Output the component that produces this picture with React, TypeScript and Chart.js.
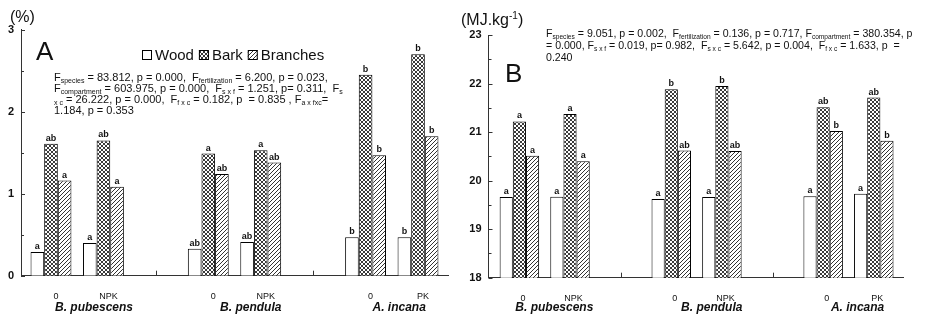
import React, { useEffect, useRef } from 'react';
import { Chart, registerables } from 'chart.js';

Chart.register(...registerables);

const FONT = '"Liberation Sans", Arial, Helvetica, sans-serif';
const INK = '#111';

// ---------- data ----------
const xLabels = ['0', 'NPK', '', '0', 'NPK', '', '0', 'PK'];
const barSlots = [0, 1, 3, 4, 6, 7];
const separatorSlots = [2, 5];
const species = ['B. pubescens', 'B. pendula', 'A. incana'];
const speciesSlotsA = [0.82, 3.81, 6.64];
const speciesSlotsB = [0.69, 3.8, 6.68];
const seriesNames = ['Wood', 'Bark', 'Branches'];

const woodA = [0.29, 0.4, 0.33, 0.41, 0.47, 0.47];
const barkA = [1.61, 1.65, 1.49, 1.53, 2.45, 2.7];
const branchesA = [1.16, 1.085, 1.24, 1.38, 1.47, 1.7];
const woodLettersA = ['a', 'a', 'ab', 'ab', 'b', 'b'];
const barkLettersA = ['ab', 'ab', 'a', 'a', 'b', 'b'];
const branchesLettersA = ['a', 'a', 'ab', 'ab', 'b', 'b'];

const woodB = [19.66, 19.67, 19.62, 19.66, 19.68, 19.73];
const barkB = [21.22, 21.375, 21.88, 21.95, 21.51, 21.71];
const branchesB = [20.51, 20.4, 20.62, 20.61, 21.02, 20.82];
const woodLettersB = ['a', 'a', 'a', 'a', 'a', 'a'];
const barkLettersB = ['a', 'a', 'b', 'b', 'ab', 'ab'];
const branchesLettersB = ['a', 'a', 'ab', 'ab', 'b', 'b'];

type Seg = [string, number]; // 0 normal, 1 subscript, 2 superscript

const statsA: Seg[][] = [
  [['F', 0], ['species', 1], [' = 83.812, p = 0.000,  F', 0], ['fertilization', 1], [' = 6.200, p = 0.023,', 0]],
  [['F', 0], ['compartment', 1], [' = 603.975, p = 0.000,  F', 0], ['s x f', 1], [' = 1.251, p= 0.311,  F', 0], ['s', 1]],
  [['x c', 1], [' = 26.222, p = 0.000,  F', 0], ['f x c', 1], [' = 0.182, p  = 0.835 , F', 0], ['a x fxc', 1], ['=', 0]],
  [['1.184, p = 0.353', 0]],
];
const statsB: Seg[][] = [
  [['F', 0], ['species', 1], [' = 9.051, p = 0.002,  F', 0], ['fertilization', 1], [' = 0.136, p = 0.717, F', 0], ['compartment', 1], [' = 380.354, p', 0]],
  [['= 0.000, F', 0], ['s x f', 1], [' = 0.019, p= 0.982,  F', 0], ['s x c', 1], [' = 5.642, p = 0.004,  F', 0], ['f x c', 1], [' = 1.633, p  =', 0]],
  [['0.240', 0]],
];
const unitA: Seg[] = [['(%)', 0]];
const unitB: Seg[] = [['(MJ.kg', 0], ['-1', 2], [')', 0]];

// ---------- patterns ----------
function makePattern(kind: 'bark' | 'branches'): CanvasPattern | string {
  const c = document.createElement('canvas');
  c.width = 4;
  c.height = 4;
  const x = c.getContext('2d');
  if (!x) return '#888';
  x.fillStyle = '#fff';
  x.fillRect(0, 0, 4, 4);
  x.fillStyle = kind === 'bark' ? '#3a3a3a' : '#333';
  for (let i = 0; i < 4; i++) {
    if (kind === 'bark') {
      x.fillRect(i, i, 1, 1);
      x.fillRect(3 - i, i, 1, 1);
    } else {
      x.fillRect(3 - i, i, 1, 1);
    }
  }
  const ctx = document.createElement('canvas').getContext('2d');
  return (ctx && ctx.createPattern(c, 'repeat')) || '#888';
}

function drawRich(ctx: CanvasRenderingContext2D, segs: Seg[], x: number, y: number, size: number, small: number) {
  let cx = x;
  ctx.textAlign = 'left';
  ctx.textBaseline = 'alphabetic';
  for (const [t, k] of segs) {
    ctx.font = `${k ? small : size}px ${FONT}`;
    const dy = k === 1 ? 2 : k === 2 ? -6 : 0;
    ctx.fillText(t, cx, y + dy);
    cx += ctx.measureText(t).width;
  }
}

interface PanelCfg {
  canvasWidth: number;
  left: number;
  area: { left: number; right: number; top: number; bottom: number };
  xMin: number;
  xMax: number;
  yMin: number;
  yMax: number;
  labelOffset: number;
  values: number[][];
  letters: string[][];
  speciesSlots: number[];
  unit: Seg[];
  unitPos: [number, number];
  panelLetter: string;
  panelLetterPos: [number, number];
  stats: Seg[][];
  statsX: number;
  statsBaselines: number[];
  statsFont: [number, number];
  legendPos?: [number, number];
}

function Panel({ cfg }: { cfg: PanelCfg }) {
  const ref = useRef<HTMLCanvasElement>(null);
  useEffect(() => {
    const canvas = ref.current;
    if (!canvas) return;
    const fills: (string | CanvasPattern)[] = ['#ffffff', makePattern('bark'), makePattern('branches')];
    const a = cfg.area;

    const overlay = {
      id: 'overlay',
      afterDraw(chart: any) {
        const ctx: CanvasRenderingContext2D = chart.ctx;
        const ca = chart.chartArea;
        const xs = chart.scales.x;
        const ys = chart.scales.y;
        ctx.save();
        // inward y ticks
        ctx.strokeStyle = '#333';
        ctx.lineWidth = 1;
        ys.ticks.forEach((t: any) => {
          const py = Math.round(ys.getPixelForValue(t.value)) + 0.5;
          const len = Number.isInteger(t.value) ? 4 : 3;
          ctx.beginPath();
          ctx.moveTo(ca.left, py);
          ctx.lineTo(ca.left + len, py);
          ctx.stroke();
        });
        // separator ticks on x
        separatorSlots.forEach((s) => {
          const px = Math.round(xs.getPixelForValue(s)) + 0.5;
          ctx.beginPath();
          ctx.moveTo(px, ca.bottom);
          ctx.lineTo(px, ca.bottom - 5);
          ctx.stroke();
        });
        // letters above bars
        ctx.fillStyle = INK;
        ctx.font = `bold 9px ${FONT}`;
        ctx.textAlign = 'center';
        ctx.textBaseline = 'alphabetic';
        cfg.letters.forEach((arr, di) => {
          const meta = chart.getDatasetMeta(di);
          meta.data.forEach((bar: any, j: number) => {
            ctx.fillText(arr[j], bar.x, bar.y - 3);
          });
        });
        // species names
        ctx.font = `italic bold 12px ${FONT}`;
        species.forEach((s, i) => {
          ctx.fillText(s, xs.getPixelForValue(cfg.speciesSlots[i]), 311);
        });
        // unit label
        drawRich(ctx, cfg.unit, cfg.unitPos[0], cfg.unitPos[1], 16, 10);
        // panel letter
        ctx.font = `26px ${FONT}`;
        ctx.textAlign = 'left';
        ctx.fillText(cfg.panelLetter, cfg.panelLetterPos[0], cfg.panelLetterPos[1]);
        // stats
        cfg.stats.forEach((line, i) =>
          drawRich(ctx, line, cfg.statsX, cfg.statsBaselines[i], cfg.statsFont[0], cfg.statsFont[1])
        );
        // legend
        if (cfg.legendPos) {
          let cx = cfg.legendPos[0];
          const base = cfg.legendPos[1];
          const box = 10;
          seriesNames.forEach((name, i) => {
            ctx.fillStyle = fills[i] as any;
            ctx.fillRect(cx, base - box, box, box);
            ctx.strokeStyle = '#000';
            ctx.strokeRect(cx + 0.5, base - box + 0.5, box - 1, box - 1);
            cx += box + 3;
            ctx.fillStyle = INK;
            ctx.font = `15px ${FONT}`;
            ctx.fillText(name, cx, base);
            cx += ctx.measureText(name).width + 5;
          });
        }
        ctx.restore();
      },
    };

    const chart = new Chart(canvas, {
      type: 'bar',
      data: {
        datasets: seriesNames.map((name, i) => ({
          label: name,
          data: cfg.values[i].map((v, j) => ({ x: barSlots[j], y: v })),
          backgroundColor: fills[i] as any,
          borderColor: '#000',
          borderWidth: 1,
          borderSkipped: 'bottom',
          categoryPercentage: 0.78,
          barPercentage: 1,
        })) as any,
      },
      options: {
        responsive: false,
        animation: false,
        devicePixelRatio: 1,
        layout: { padding: { left: 0, top: a.top, right: cfg.canvasWidth - a.right, bottom: 0 } },
        plugins: { legend: { display: false }, tooltip: { enabled: false } },
        scales: {
          x: {
            type: 'linear',
            min: cfg.xMin,
            max: cfg.xMax,
            offset: false,
            grid: { display: false, drawTicks: false },
            border: { display: true, color: '#333', width: 1 },
            afterBuildTicks: (s: any) => {
              s.ticks = xLabels.map((_, i) => ({ value: i }));
            },
            afterFit: (s: any) => {
              s.height = 320 - a.bottom;
            },
            ticks: {
              autoSkip: false,
              maxRotation: 0,
              padding: 15,
              labelOffset: cfg.labelOffset,
              color: INK,
              font: { family: FONT, size: 9 },
              callback: (_v: any, i: number) => xLabels[i],
            },
          },
          y: {
            type: 'linear',
            min: cfg.yMin,
            max: cfg.yMax,
            beginAtZero: false,
            grid: { display: false, drawTicks: false },
            border: { display: true, color: '#333', width: 1 },
            afterFit: (s: any) => {
              s.width = a.left;
            },
            ticks: {
              stepSize: 0.5,
              autoSkip: false,
              padding: 7,
              color: INK,
              font: { family: FONT, size: 11, weight: 'bold' },
              callback: (v: any) => (Number.isInteger(v) ? String(v) : ''),
            },
          },
        },
      } as any,
      plugins: [overlay],
    });
    return () => chart.destroy();
  }, []);
  return (
    <div style={{ position: 'absolute', left: cfg.left, top: 0, width: cfg.canvasWidth, height: 320 }}>
      <canvas ref={ref} width={cfg.canvasWidth} height={320} style={{ width: cfg.canvasWidth, height: 320, display: 'block' }} />
    </div>
  );
}

const panelA: PanelCfg = {
  canvasWidth: 455,
  left: 0,
  area: { left: 21, right: 448, top: 29.7, bottom: 275.7 },
  xMin: -0.572,
  xMax: 7.572,
  yMin: 0,
  yMax: 3,
  labelOffset: 5,
  values: [woodA, barkA, branchesA],
  letters: [woodLettersA, barkLettersA, branchesLettersA],
  speciesSlots: speciesSlotsA,
  unit: unitA,
  unitPos: [10, 22],
  panelLetter: 'A',
  panelLetterPos: [36, 60],
  stats: statsA,
  statsX: 54,
  statsBaselines: [81, 92, 103, 114],
  statsFont: [11, 7],
  legendPos: [142, 60],
};

const panelB: PanelCfg = {
  canvasWidth: 474,
  left: 455,
  area: { left: 33.5, right: 448, top: 35, bottom: 277.7 },
  xMin: -0.61,
  xMax: 7.577,
  yMin: 18,
  yMax: 23,
  labelOffset: 3.5,
  values: [woodB, barkB, branchesB],
  letters: [woodLettersB, barkLettersB, branchesLettersB],
  speciesSlots: speciesSlotsB,
  unit: unitB,
  unitPos: [6, 25],
  panelLetter: 'B',
  panelLetterPos: [50, 82],
  stats: statsB,
  statsX: 91,
  statsBaselines: [37, 49, 61],
  statsFont: [10.6, 6.6],
};

export default function App() {
  return (
    <div style={{ position: 'fixed', left: 0, top: 0, width: 929, height: 320, background: '#fff', overflow: 'hidden' }}>
      <Panel cfg={panelA} />
      <Panel cfg={panelB} />
    </div>
  );
}
